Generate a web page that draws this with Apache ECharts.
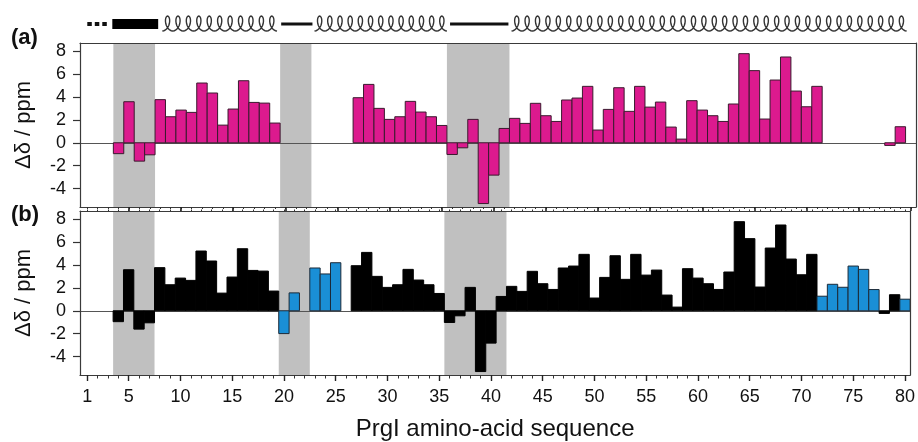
<!DOCTYPE html>
<html>
<head>
<meta charset="utf-8">
<script src="https://cdn.jsdelivr.net/npm/echarts@6/dist/echarts.min.js"></script>
<style>
  html, body { margin: 0; padding: 0; background: #fff; }
  #chart { width: 918px; height: 442px; }
</style>
</head>
<body>
<div id="chart"></div>
<script>
// residue numbers along the sequence
const residues = Array.from({ length: 80 }, (_, i) => i + 1);

// panel (a) chemical shift differences, one per residue (null = no data)
const shiftA = [
  null, null, null, -0.95, 3.58, -1.6, -1.05, 3.76, 2.27, 2.85,
  2.65, 5.21, 4.34, 1.54, 2.94, 5.41, 3.52, 3.46, 1.72, null,
  null, null, null, null, null, null, 3.93, 5.09, 3.0, 2.04,
  2.27, 3.61, 2.68, 2.27, 1.51, -1.02, -0.44, 2.04, -5.3, -2.82,
  1.25, 2.13, 1.69, 3.44, 2.36, 1.86, 3.73, 3.9, 4.92, 1.11,
  2.91, 4.8, 2.74, 4.92, 3.11, 3.55, 1.37, 0.32, 3.67, 2.85,
  2.36, 1.86, 3.38, 7.77, 6.29, 2.07, 5.47, 7.48, 4.51, 3.14,
  4.92, null, null, null, null, null, null, -0.23, 1.40, null
];
// panel (b): black bars repeat the panel (a) values, blue bars are extra residues
const shiftB = shiftA.slice();
const blueRes = [20, 21, 23, 24, 25, 72, 73, 74, 75, 76, 77, 80];
const blueVals = [-1.99, 1.56, 3.73, 3.21, 4.19, 1.27, 2.31, 2.05, 3.9, 3.61, 1.85, 1.01];

// grey shaded ranges
const shadeStart = [3.5, 19.5, 35.5];
const shadeEnd = [7.5, 22.5, 41.5];

// tick values
const yTicks = [-4, -2, 0, 2, 4, 6, 8];
const xLabels = [1, 5, 10, 15, 20, 25, 30, 35, 40, 45, 50, 55, 60, 65, 70, 75, 80];
const xMajor = [5, 10, 15, 20, 25, 30, 35, 40, 45, 50, 55, 60, 65, 70, 75, 80];

// secondary structure above the plot
const ssStart = [1.0, 3.4, 8.2, 19.6, 22.8, 35.8, 41.7];
const ssEnd = [3.0, 7.8, 19.2, 22.6, 35.5, 41.4, 79.6];
const ssType = ['dots', 'strand', 'helix', 'loop', 'helix', 'loop', 'helix'];

const FONT = '"Liberation Sans", Arial, sans-serif';
const X_MIN = 0.3, X_MAX = 80.5, Y_MIN = -5.6, Y_MAX = 8.7;

const pairs = (xs, ys) => xs.map((x, i) => [x, ys[i]]).filter(d => d[1] != null);

function barItem(fill, stroke) {
  return function (params, api) {
    const n = api.value(0), v = api.value(1);
    const p0 = api.coord([n - 0.5, v]);
    const p1 = api.coord([n + 0.5, 0]);
    return {
      type: 'rect',
      shape: { x: p0[0], y: Math.min(p0[1], p1[1]), width: p1[0] - p0[0], height: Math.abs(p1[1] - p0[1]) },
      style: { fill: fill, stroke: stroke, lineWidth: 1 }
    };
  };
}

function shadeItem(params, api) {
  const a = api.coord([api.value(0), 0]);
  const b = api.coord([api.value(1), 0]);
  const cs = params.coordSys;
  return { type: 'rect', shape: { x: a[0], y: cs.y, width: b[0] - a[0], height: cs.height }, style: { fill: '#c0c0c0' } };
}

function zeroItem(params, api) {
  const cs = params.coordSys;
  const y = Math.round(api.coord([api.value(0), 0])[1]) + 0.5;
  return { type: 'line', shape: { x1: cs.x, y1: y, x2: cs.x + cs.width, y2: y }, style: { stroke: '#555', lineWidth: 1 } };
}

function ssItem(params, api) {
  const i = params.dataIndex;
  const x0 = api.coord([api.value(0), 0.5])[0];
  const x1 = api.coord([api.value(1), 0.5])[0];
  const yc = api.coord([api.value(0), 0.5])[1];
  const t = ssType[i];
  if (t === 'dots') {
    return { type: 'line', shape: { x1: x0, y1: yc + 1, x2: x1, y2: yc + 1 }, style: { stroke: '#111', lineWidth: 4, lineDash: [4.5, 3] } };
  }
  if (t === 'strand') {
    return { type: 'rect', shape: { x: x0, y: yc - 4, width: x1 - x0, height: 10 }, style: { fill: '#000' } };
  }
  if (t === 'loop') {
    return { type: 'line', shape: { x1: x0, y1: yc + 1, x2: x1, y2: yc + 1 }, style: { stroke: '#111', lineWidth: 3 } };
  }
  // helix drawn as a row of loops
  const loops = Math.max(1, Math.round((x1 - x0) / 10.4));
  const r = (x1 - x0) / (loops * 2 * Math.PI);
  const bx = 4.4, by = 7.5;
  const pts = [];
  const steps = loops * 24;
  for (let k = 0; k <= steps; k++) {
    const u = (k / steps) * loops * 2 * Math.PI;
    pts.push([x0 + r * u + bx * Math.sin(u), yc + 0.5 + by * Math.cos(u)]);
  }
  return { type: 'polyline', shape: { points: pts }, style: { stroke: '#333', lineWidth: 1.4, fill: null } };
}

const chart = echarts.init(document.getElementById('chart'));

const lineStyle = { color: '#3a3a3a', width: 1.2 };
const baseX = (grid, extra) => Object.assign({
  type: 'value', gridIndex: grid, min: X_MIN, max: X_MAX, z: 10,
  splitLine: { show: false }, axisLabel: { show: false }, axisTick: { show: false },
  axisLine: { show: false, onZero: false, lineStyle: lineStyle }
}, extra);
const leftY = (grid) => ({
  type: 'value', gridIndex: grid, min: Y_MIN, max: Y_MAX, position: 'left', z: 10,
  splitLine: { show: false },
  axisLine: { show: true, onZero: false, lineStyle: lineStyle },
  axisTick: { show: true, customValues: yTicks, length: 7, lineStyle: { color: '#333', width: 1.2 } },
  axisLabel: { customValues: yTicks, margin: 14, fontSize: 18, color: '#111', fontFamily: FONT },
  name: 'Δδ / ppm', nameLocation: 'middle', nameGap: 45,
  nameTextStyle: { fontSize: 22, color: '#111', fontFamily: FONT }
});
const rightY = (grid) => ({
  type: 'value', gridIndex: grid, min: Y_MIN, max: Y_MAX, position: 'right', z: 10,
  splitLine: { show: false }, axisTick: { show: false }, axisLabel: { show: false },
  axisLine: { show: true, onZero: false, lineStyle: lineStyle }
});

const option = {
  backgroundColor: '#fff',
  animation: false,
  title: [
    { text: '(a)', left: 11, top: 27, padding: 0, textStyle: { fontSize: 22, fontWeight: 'bold', color: '#111', fontFamily: FONT } },
    { text: '(b)', left: 11, top: 204, padding: 0, textStyle: { fontSize: 22, fontWeight: 'bold', color: '#111', fontFamily: FONT } }
  ],
  grid: [
    { left: 80, top: 43, width: 836, height: 164 },
    { left: 80, top: 211, width: 836, height: 165 },
    { left: 80, top: 12, width: 836, height: 22 }
  ],
  xAxis: [
    // panel (a) bottom: minor + major ticks
    baseX(0, { position: 'bottom', axisLine: { show: true, onZero: false, lineStyle: lineStyle },
      axisTick: { show: true, customValues: residues, length: 2, lineStyle: { color: '#333' } } }),
    baseX(0, { position: 'bottom', axisTick: { show: true, customValues: xMajor, length: 4, lineStyle: { color: '#222', width: 1.6 } } }),
    // panel (a) top frame
    baseX(0, { position: 'top', axisLine: { show: true, onZero: false, lineStyle: lineStyle } }),
    // panel (b) bottom: minor ticks, major ticks with labels
    baseX(1, { position: 'bottom', axisLine: { show: true, onZero: false, lineStyle: lineStyle },
      axisTick: { show: true, customValues: residues, length: 3.5, lineStyle: { color: '#333' } } }),
    baseX(1, { position: 'bottom',
      axisTick: { show: true, customValues: xLabels, length: 6, lineStyle: { color: '#222', width: 1.4 } },
      axisLabel: { show: true, customValues: xLabels, margin: 13, fontSize: 18, color: '#111', fontFamily: FONT },
      name: 'PrgI amino-acid sequence', nameLocation: 'middle', nameGap: 42,
      nameTextStyle: { fontSize: 24, color: '#111', fontFamily: FONT } }),
    // panel (b) top: frame with short ticks
    baseX(1, { position: 'top', axisLine: { show: true, onZero: false, lineStyle: lineStyle },
      axisTick: { show: true, customValues: residues, length: 1.5, lineStyle: { color: '#333' } } }),
    // header
    baseX(2, { show: false })
  ],
  yAxis: [
    leftY(0), rightY(0), leftY(1), rightY(1),
    { type: 'value', gridIndex: 2, min: 0, max: 1, show: false }
  ],
  series: [
    { type: 'custom', xAxisIndex: 0, yAxisIndex: 0, z: 1, renderItem: shadeItem, data: pairs(shadeStart, shadeEnd) },
    { type: 'custom', xAxisIndex: 0, yAxisIndex: 0, z: 2, renderItem: zeroItem, data: [[X_MIN, 0]] },
    { type: 'custom', xAxisIndex: 0, yAxisIndex: 0, z: 3, renderItem: barItem('#dc1a8e', '#3a1a2e'), data: pairs(residues, shiftA) },

    { type: 'custom', xAxisIndex: 3, yAxisIndex: 2, z: 1, renderItem: shadeItem, data: pairs(shadeStart, shadeEnd) },
    { type: 'custom', xAxisIndex: 3, yAxisIndex: 2, z: 2, renderItem: zeroItem, data: [[X_MIN, 0]] },
    { type: 'custom', xAxisIndex: 3, yAxisIndex: 2, z: 3, renderItem: barItem('#000', '#000'), data: pairs(residues, shiftB) },
    { type: 'custom', xAxisIndex: 3, yAxisIndex: 2, z: 3, renderItem: barItem('#1a8fd6', '#1c2a38'), data: pairs(blueRes, blueVals) },

    { type: 'custom', xAxisIndex: 6, yAxisIndex: 4, z: 3, renderItem: ssItem, data: pairs(ssStart, ssEnd) }
  ]
};

chart.setOption(option);
</script>
</body>
</html>
